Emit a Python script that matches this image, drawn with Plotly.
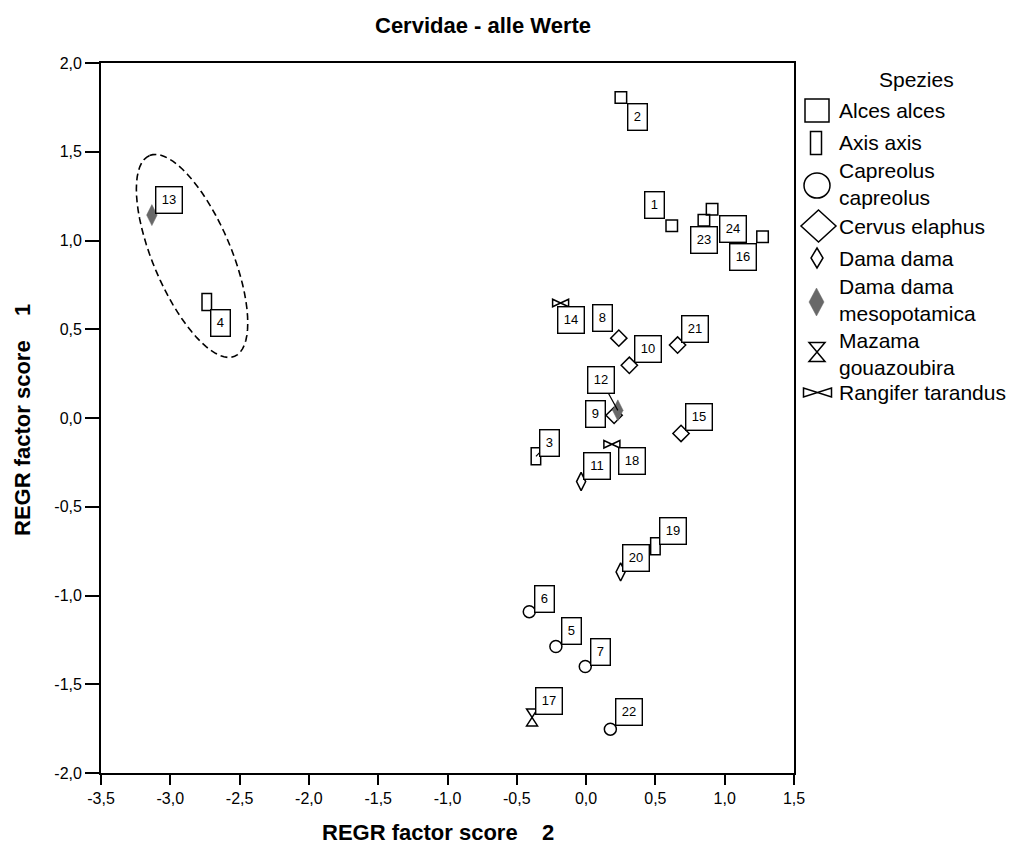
import math
import plotly.graph_objects as go

# ---------------- data ----------------
species = ["Alces alces", "Axis axis", "Capreolus capreolus", "Cervus elaphus",
           "Dama dama", "Dama dama mesopotamica", "Mazama gouazoubira", "Rangifer tarandus"]

alces_ids = [1, 2, 16, 23, 24]
alces_x = [0.618, 0.251, 1.273, 0.850, 0.909]
alces_y = [1.083, 1.806, 1.021, 1.114, 1.176]

axis_ids = [3, 4, 19]
axis_x = [-0.362, -2.737, 0.500]
axis_y = [-0.216, 0.654, -0.722]

capreolus_ids = [5, 6, 7, 22]
capreolus_x = [-0.218, -0.410, -0.006, 0.175]
capreolus_y = [-1.287, -1.091, -1.400, -1.753]

cervus_ids = [8, 9, 10, 15, 21]
cervus_x = [0.236, 0.202, 0.312, 0.685, 0.660]
cervus_y = [0.450, 0.015, 0.297, -0.087, 0.411]

dama_ids = [11, 20]
dama_x = [-0.036, 0.249]
dama_y = [-0.358, -0.867]

meso_ids = [12, 13]
meso_x = [0.229, -3.133]
meso_y = [0.043, 1.143]

mazama_ids = [17]
mazama_x = [-0.390]
mazama_y = [-1.687]

rangifer_ids = [14, 18]
rangifer_x = [-0.184, 0.186]
rangifer_y = [0.648, -0.148]

x_tick_vals = [-3.5, -3.0, -2.5, -2.0, -1.5, -1.0, -0.5, 0.0, 0.5, 1.0, 1.5]
x_tick_text = ["-3,5", "-3,0", "-2,5", "-2,0", "-1,5", "-1,0", "-0,5", "0,0", "0,5", "1,0", "1,5"]
y_tick_vals = [-2.0, -1.5, -1.0, -0.5, 0.0, 0.5, 1.0, 1.5, 2.0]
y_tick_text = ["-2,0", "-1,5", "-1,0", "-0,5", "0,0", "0,5", "1,0", "1,5", "2,0"]

title_text = "Cervidae - alle Werte"
x_title = "REGR factor score\u00a0\u00a0\u00a0 2"
y_title = "REGR factor score\u00a0\u00a0\u00a0 1"
legend_title = "Spezies"
legend_names = ["Alces alces", "Axis axis", "Capreolus<br>capreolus", "Cervus elaphus",
                "Dama dama", "Dama dama<br>mesopotamica", "Mazama<br>gouazoubira", "Rangifer tarandus"]

# ---------------- layout constants ----------------
W, H = 1014, 845
ML, MR, MT, MB = 101, 220, 63, 72
PW, PH = W - ML - MR, H - MT - MB
FONT = "Arial, 'Liberation Sans', sans-serif"
GRAY = "#686868"
LW = 1.5

# label box offsets in pixels (dx right, dy down) and whether a leader line is drawn
label_offsets = {
    1: (-17.5, -20.4), 2: (16.9, 19.8), 3: (13.7, -13.8), 4: (13.7, 21.0),
    5: (15.4, -15.2), 6: (15.6, -13.0), 7: (15.3, -14.7), 8: (-16.8, -20.4),
    9: (-18.5, -1.8), 10: (18.7, -16.5), 11: (16.0, -15.7), 12: (-16.8, -30.4),
    13: (16.7, -15.3), 14: (10.8, 16.7), 15: (18.3, -16.7), 16: (-20.0, 20.2),
    17: (17.2, -16.3), 18: (20.5, 16.6), 19: (17.2, -15.4), 20: (15.4, -13.8),
    21: (17.4, -16.3), 22: (18.2, -17.0), 23: (0.0, 19.7), 24: (21.4, 20.0),
}
leader_ids = {3, 12}


def px2paper(px, py):
    return (px - ML) / PW, (H - MB - py) / PH


def rect_path(w, h):
    return f"M{-w/2},{-h/2} L{w/2},{-h/2} L{w/2},{h/2} L{-w/2},{h/2} Z"


def diamond_path(w, h):
    return f"M0,{h/2} L{w/2},0 L0,{-h/2} L{-w/2},0 Z"


def hourglass_path(w, h):
    return f"M{-w/2},{h/2} L{w/2},{h/2} L{-w/2},{-h/2} L{w/2},{-h/2} Z"


def bowtie_path(w, h):
    return f"M{-w/2},{h/2} L{-w/2},{-h/2} L{w/2},{h/2} L{w/2},{-h/2} Z"


fig = go.Figure()

# standard-symbol series
std_series = [
    ("Alces alces", alces_x, alces_y, dict(symbol="square-open", size=11.5, color="black", line=dict(width=LW))),
    ("Capreolus capreolus", capreolus_x, capreolus_y, dict(symbol="circle-open", size=12, color="black", line=dict(width=LW))),
    ("Cervus elaphus", cervus_x, cervus_y, dict(symbol="diamond-open", size=12.5, color="black", line=dict(width=LW))),
    ("Dama dama", dama_x, dama_y, dict(symbol="diamond-tall-open", size=13, color="black", line=dict(width=LW))),
    ("Dama dama mesopotamica", meso_x, meso_y, dict(symbol="diamond-tall", size=15, color=GRAY, line=dict(width=0.5, color=GRAY))),
]
for name, xs, ys, mk in std_series:
    fig.add_trace(go.Scatter(x=xs, y=ys, mode="markers", name=name, marker=mk,
                             showlegend=False, cliponaxis=False))

# custom-shaped series (traces carry the data, shapes draw the glyph at each data point)
custom_series = [
    ("Axis axis", axis_x, axis_y, rect_path(9.5, 17)),
    ("Mazama gouazoubira", mazama_x, mazama_y, hourglass_path(11, 17)),
    ("Rangifer tarandus", rangifer_x, rangifer_y, bowtie_path(16, 7.5)),
]
shapes = []
for name, xs, ys, path in custom_series:
    fig.add_trace(go.Scatter(x=xs, y=ys, mode="markers", name=name,
                             marker=dict(size=10, opacity=0), showlegend=False))
    for xv, yv in zip(xs, ys):
        shapes.append(dict(type="path", xref="x", yref="y", xsizemode="pixel", ysizemode="pixel",
                           xanchor=xv, yanchor=yv, path=path,
                           line=dict(color="black", width=LW), fillcolor="rgba(0,0,0,0)"))

# dashed ellipse around group (center in data units, size in pixels)
ell_cx, ell_cy, ell_a, ell_b, ell_tilt = -2.843, 0.913, 109, 39, 23
th = math.radians(ell_tilt)
ux, uy = -math.sin(th), math.cos(th)
vx, vy = math.cos(th), math.sin(th)
pts = []
for i in range(73):
    t = 2 * math.pi * i / 72
    px_ = ell_a * math.cos(t) * ux + ell_b * math.sin(t) * vx
    py_ = ell_a * math.cos(t) * uy + ell_b * math.sin(t) * vy
    pts.append(f"{px_:.2f},{py_:.2f}")
ell_path = "M" + " L".join(pts) + " Z"
shapes.append(dict(type="path", xref="x", yref="y", xsizemode="pixel", ysizemode="pixel",
                   xanchor=ell_cx, yanchor=ell_cy, path=ell_path,
                   line=dict(color="black", width=1.6, dash="7px,4px")))

# label boxes
annotations = []
all_points = []
for ids, xs, ys in [(alces_ids, alces_x, alces_y), (axis_ids, axis_x, axis_y),
                    (capreolus_ids, capreolus_x, capreolus_y), (cervus_ids, cervus_x, cervus_y),
                    (dama_ids, dama_x, dama_y), (meso_ids, meso_x, meso_y),
                    (mazama_ids, mazama_x, mazama_y), (rangifer_ids, rangifer_x, rangifer_y)]:
    for i, xv, yv in zip(ids, xs, ys):
        all_points.append((i, xv, yv))

for i, xv, yv in all_points:
    dx, dy = label_offsets[i]
    txt = str(i)
    annotations.append(dict(
        x=xv, y=yv, xref="x", yref="y", text=txt, ax=dx, ay=dy,
        showarrow=True, arrowhead=0, arrowwidth=1.2, standoff=0,
        arrowcolor="black" if i in leader_ids else "rgba(0,0,0,0)",
        font=dict(family=FONT, size=13, color="black"),
        bgcolor="white", bordercolor="black", borderwidth=1.4, borderpad=2,
        width=14 if len(txt) == 1 else 21, height=21, align="center", valign="middle"))

# titles
tx, ty = px2paper(483, 25)
annotations.append(dict(x=tx, y=ty, xref="paper", yref="paper", text=f"<b>{title_text}</b>",
                        showarrow=False, font=dict(family=FONT, size=22, color="black"),
                        xanchor="center", yanchor="middle"))
tx, ty = px2paper(438, 833)
annotations.append(dict(x=tx, y=ty, xref="paper", yref="paper", text=f"<b>{x_title}</b>",
                        showarrow=False, font=dict(family=FONT, size=22, color="black"),
                        xanchor="center", yanchor="middle"))
tx, ty = px2paper(22, 420)
annotations.append(dict(x=tx, y=ty, xref="paper", yref="paper", text=f"<b>{y_title}</b>",
                        showarrow=False, textangle=-90, font=dict(family=FONT, size=22, color="black"),
                        xanchor="center", yanchor="middle"))

# custom legend
tx, ty = px2paper(916, 80)
annotations.append(dict(x=tx, y=ty, xref="paper", yref="paper", text=legend_title,
                        showarrow=False, font=dict(family=FONT, size=21, color="black"),
                        xanchor="center", yanchor="middle"))
legend_rows_y = [110, 143, 184, 226, 258, 300, 354, 392]
legend_sym_x = [817, 816, 817, 818.5, 817, 816.5, 817, 817.5]
legend_sym_y = [110.5, 143, 185.5, 226, 258, 302, 352, 392.5]
legend_paths = [rect_path(24, 23), rect_path(11, 23), None, diamond_path(35, 32),
                diamond_path(12, 20), diamond_path(15, 28), hourglass_path(16, 19), bowtie_path(28, 9)]
for k, name in enumerate(legend_names):
    tx, ty = px2paper(837, legend_rows_y[k])
    annotations.append(dict(x=tx, y=ty, xref="paper", yref="paper", text=name, align="left",
                            showarrow=False, font=dict(family=FONT, size=21, color="black"),
                            xanchor="left", yanchor="middle"))
    sx, sy = px2paper(legend_sym_x[k], legend_sym_y[k])
    if legend_paths[k] is None:
        shapes.append(dict(type="circle", xref="paper", yref="paper", xsizemode="pixel", ysizemode="pixel",
                           xanchor=sx, yanchor=sy, x0=-13, x1=13, y0=-12.5, y1=12.5,
                           line=dict(color="black", width=LW)))
    else:
        filled = (k == 5)
        shapes.append(dict(type="path", xref="paper", yref="paper", xsizemode="pixel", ysizemode="pixel",
                           xanchor=sx, yanchor=sy, path=legend_paths[k],
                           line=dict(color=GRAY if filled else "black", width=0.5 if filled else LW),
                           fillcolor=GRAY if filled else "rgba(0,0,0,0)"))

axis_common = dict(showgrid=False, zeroline=False, showline=True, linecolor="black", linewidth=1.8,
                   mirror=True, ticks="outside", tickcolor="black", tickwidth=1.5,
                   tickfont=dict(family=FONT, size=16, color="black"))

fig.update_layout(
    width=W, height=H, autosize=False,
    margin=dict(l=ML, r=MR, t=MT, b=MB, pad=0),
    paper_bgcolor="white", plot_bgcolor="white",
    showlegend=False,
    xaxis=dict(range=[-3.5, 1.5], tickmode="array", tickvals=x_tick_vals, ticktext=x_tick_text,
               ticklen=10, **axis_common),
    yaxis=dict(range=[-2.0, 2.0], tickmode="array", tickvals=y_tick_vals, ticktext=y_tick_text,
               ticklen=14, **axis_common),
    shapes=shapes,
    annotations=annotations,
)

fig.write_html("out.html")
